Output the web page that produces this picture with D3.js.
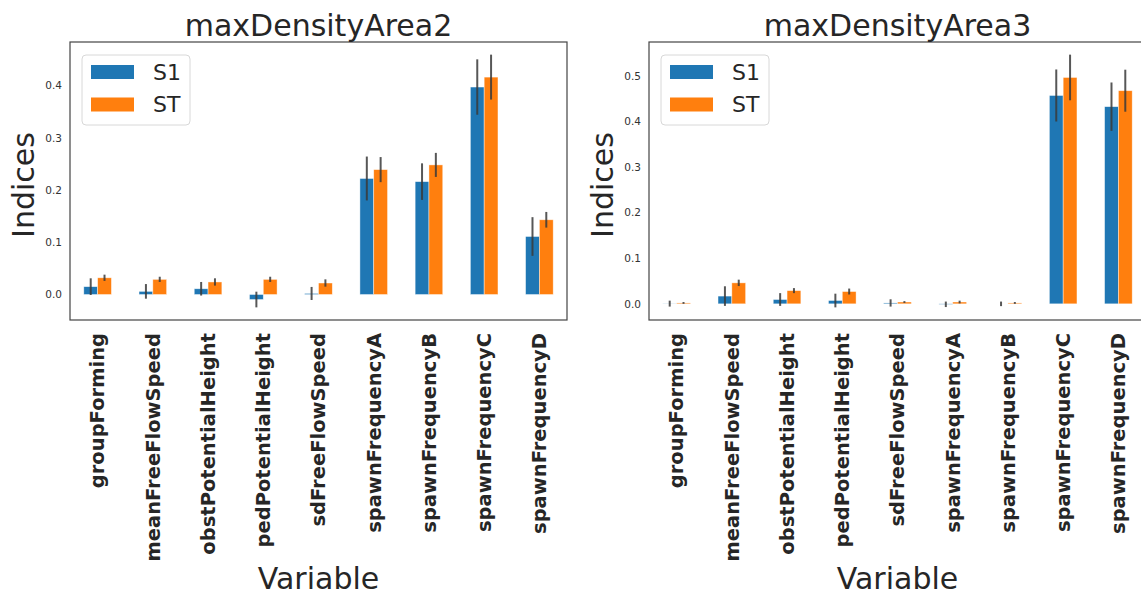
<!DOCTYPE html>
<html>
<head>
<meta charset="utf-8">
<script src="https://cdn.jsdelivr.net/npm/d3@7"></script>
<style>
  body { margin: 0; background: #fff; }
  svg { display: block; overflow: hidden; }
  text { font-family: "DejaVu Sans", sans-serif; }
</style>
</head>
<body>
<div id="wrapper"></div>
<script>
// data
const variables = ["groupForming", "meanFreeFlowSpeed", "obstPotentialHeight",
  "pedPotentialHeight", "sdFreeFlowSpeed", "spawnFrequencyA", "spawnFrequencyB",
  "spawnFrequencyC", "spawnFrequencyD"]
const series = ["S1", "ST"]
const colors = ["#1f77b4", "#ff7f0e"]

// maxDensityArea2
const s1Area2 = [0.015, 0.006, 0.011, -0.0096, 0.002, 0.222, 0.216, 0.397, 0.111]
const s1ConfArea2 = [0.016, 0.014, 0.013, 0.015, 0.0125, 0.042, 0.035, 0.053, 0.037]
const stArea2 = [0.032, 0.029, 0.024, 0.029, 0.022, 0.239, 0.248, 0.416, 0.143]
const stConfArea2 = [0.006, 0.005, 0.007, 0.005, 0.007, 0.024, 0.023, 0.043, 0.015]

// maxDensityArea3
const s1Area3 = [0.0005, 0.017, 0.0095, 0.0073, 0.002, -0.001, 0.0, 0.4565, 0.432]
const s1ConfArea3 = [0.0065, 0.0215, 0.014, 0.015, 0.008, 0.006, 0.005, 0.057, 0.053]
const stArea3 = [0.002, 0.046, 0.029, 0.027, 0.004, 0.004, 0.002, 0.496, 0.467]
const stConfArea3 = [0.002, 0.007, 0.0055, 0.0065, 0.002, 0.003, 0.002, 0.05, 0.046]

const yTicksArea2 = [0.0, 0.1, 0.2, 0.3, 0.4]
const yTicksArea3 = [0.0, 0.1, 0.2, 0.3, 0.4, 0.5]

const panels = [
  { title: "maxDensityArea2", left: 70, vals: [s1Area2, stArea2], conf: [s1ConfArea2, stConfArea2], ticks: yTicksArea2 },
  { title: "maxDensityArea3", left: 649, vals: [s1Area3, stArea3], conf: [s1ConfArea3, stConfArea3], ticks: yTicksArea3 },
]

// dimensions
const dim = { width: 1141, height: 600, top: 42, plotW: 497, plotH: 278 }

const svg = d3.select("#wrapper")
  .append("svg")
  .attr("width", dim.width)
  .attr("height", dim.height)

panels.forEach(p => {
  const g = svg.append("g")
    .attr("transform", `translate(${p.left},${dim.top})`)

  // y limits like matplotlib: data extent incl. error bars + 5% margin
  let lo = 0, hi = 0
  p.vals.forEach((arr, s) => arr.forEach((v, i) => {
    lo = Math.min(lo, v - p.conf[s][i])
    hi = Math.max(hi, v + p.conf[s][i])
  }))
  const pad = (hi - lo) * 0.05

  const x = d3.scaleBand().domain(variables).range([0, dim.plotW])
  const xs = d3.scaleBand().domain(series)
    .range([x.bandwidth() * 0.25, x.bandwidth() * 0.75])
  const y = d3.scaleLinear().domain([lo - pad, hi + pad]).range([dim.plotH, 0])

  // bars
  series.forEach((s, si) => {
    const rows = variables.map((v, i) => ({ v, val: p.vals[si][i], c: p.conf[si][i] }))
    g.append("g").selectAll("rect")
      .data(rows)
      .join("rect")
      .attr("x", d => x(d.v) + xs(s))
      .attr("width", xs.bandwidth())
      .attr("y", d => y(Math.max(0, d.val)))
      .attr("height", d => Math.abs(y(d.val) - y(0)))
      .attr("fill", colors[si])
      .attr("stroke", "#fff")
      .attr("stroke-width", 0.7)
      .attr("stroke-opacity", 0.6)
    g.append("g").selectAll("line")
      .data(rows)
      .join("line")
      .attr("x1", d => x(d.v) + xs(s) + xs.bandwidth() / 2)
      .attr("x2", d => x(d.v) + xs(s) + xs.bandwidth() / 2)
      .attr("y1", d => y(d.val - d.c))
      .attr("y2", d => y(d.val + d.c))
      .attr("stroke", "#3a3a3a")
      .attr("stroke-width", 2)
      .attr("stroke-opacity", 0.85)
  })

  // frame
  g.append("rect")
    .attr("width", dim.plotW).attr("height", dim.plotH)
    .attr("fill", "none").attr("stroke", "#444").attr("stroke-width", 1.2)

  // y axis
  const yAxis = g.append("g")
    .call(d3.axisLeft(y).tickValues(p.ticks).tickFormat(d3.format(".1f")).tickSize(0).tickPadding(8))
  yAxis.select(".domain").remove()
  yAxis.selectAll("text").attr("font-size", 10.5).attr("fill", "#333")
    .style("font-family", "DejaVu Sans")

  // x axis
  const xAxis = g.append("g")
    .attr("transform", `translate(0,${dim.plotH})`)
    .call(d3.axisBottom(x).tickSize(0).tickPadding(0))
  xAxis.select(".domain").remove()
  xAxis.selectAll("text")
    .attr("transform", "rotate(-90)")
    .attr("x", -13).attr("y", 0).attr("dy", "0.35em")
    .attr("text-anchor", "end")
    .attr("font-size", 19.5)
    .attr("font-weight", "bold")
    .attr("fill", "#262626")
    .style("font-family", "DejaVu Sans")

  // title + labels
  g.append("text")
    .attr("x", dim.plotW / 2).attr("y", -6)
    .attr("text-anchor", "middle")
    .attr("font-size", 30).attr("fill", "#262626")
    .text(p.title)
  g.append("text")
    .attr("x", dim.plotW / 2).attr("y", 547)
    .attr("text-anchor", "middle")
    .attr("font-size", 30).attr("fill", "#262626")
    .text("Variable")
  g.append("text")
    .attr("transform", `translate(-36,${143}) rotate(-90)`)
    .attr("text-anchor", "middle")
    .attr("font-size", 30).attr("fill", "#262626")
    .text("Indices")

  // legend
  const leg = g.append("g").attr("transform", "translate(12,13)")
  leg.append("rect")
    .attr("width", 108).attr("height", 70).attr("rx", 4)
    .attr("fill", "#fff").attr("fill-opacity", 0.8)
    .attr("stroke", "#d8d8d8")
  series.forEach((s, si) => {
    leg.append("rect")
      .attr("x", 9).attr("y", 10 + si * 32.5)
      .attr("width", 43).attr("height", 14)
      .attr("fill", colors[si])
    leg.append("text")
      .attr("x", 71).attr("y", 17 + si * 32.5).attr("dy", "0.36em")
      .attr("font-size", 22).attr("fill", "#262626")
      .text(s)
  })
})
</script>
</body>
</html>
